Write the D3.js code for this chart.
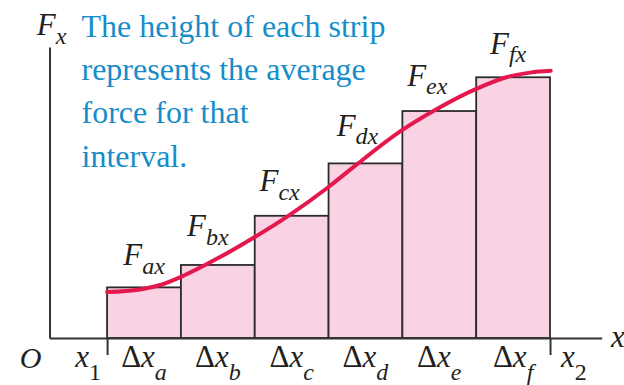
<!DOCTYPE html>
<html>
<head>
<meta charset="utf-8">
<script src="https://cdn.jsdelivr.net/npm/d3@7"></script>
</head>
<body style="margin:0">
<svg id="chart" width="624" height="385" style="font-family:'Liberation Serif'"></svg>
<script>
// Strip names and the average force over each strip
const intervals = ["a", "b", "c", "d", "e", "f"];
const avgForce = [1.74, 2.51, 4.20, 6.00, 7.80, 8.96];

// Start of the first strip and the width of every strip (same x units)
const xStart = 0.78;
const stripWidth = 1;

// The force curve F(x), sampled along the interval
const curveX = [0.78, 1.23, 1.50, 1.78, 2.31, 2.78, 3.23, 3.78, 4.18, 4.78, 5.20, 5.78, 6.20, 6.51, 6.79];
const curveF = [1.58, 1.67, 1.82, 2.10, 2.78, 3.47, 4.19, 5.19, 6.00, 7.15, 7.80, 8.56, 8.97, 9.12, 9.18];

// Caption lines
const caption = ["The height of each strip", "represents the average", "force for that", "interval."];

// Horizontal nudges for the F labels (layout only)
const labelShift = [0, -10, -12, -8, -12, -5];

const svg = d3.select("#chart");
const ink = "#231f20";

const x = d3.scaleLinear().domain([0, 7.48]).range([49.5, 601.7]);
const y = d3.scaleLinear().domain([0, 10]).range([338, 47]);

const bars = intervals.map((k, i) => ({
  key: k,
  x0: xStart + i * stripWidth,
  x1: xStart + (i + 1) * stripWidth,
  f: avgForce[i]
}));

// Strips
svg.append("g").selectAll("rect").data(bars).join("rect")
  .attr("x", d => x(d.x0))
  .attr("y", d => y(d.f))
  .attr("width", d => x(d.x1) - x(d.x0))
  .attr("height", d => y(0) - y(d.f))
  .attr("fill", "#f9d3e4")
  .attr("stroke", "#2b2b2b")
  .attr("stroke-width", 1.8);

// Axes
const xEnd = xStart + intervals.length * stripWidth;
const xAxis = d3.axisBottom(x)
  .tickValues([xStart, xEnd])
  .tickSizeInner(17).tickSizeOuter(0)
  .tickFormat("");
const gx = svg.append("g").attr("transform", `translate(0,${y(0)})`).call(xAxis);
gx.select(".domain").attr("stroke", "#333").attr("stroke-width", 2);
gx.selectAll(".tick line").attr("stroke", "#333").attr("stroke-width", 2);

const yAxis = d3.axisLeft(y).tickValues([]).tickSizeOuter(0);
const gy = svg.append("g").attr("transform", `translate(${x(0)},0)`).call(yAxis);
gy.select(".domain").attr("stroke", "#333").attr("stroke-width", 2);

// Force curve
const pts = curveX.map((v, i) => [v, curveF[i]]);
svg.append("path")
  .datum(pts)
  .attr("fill", "none")
  .attr("stroke", "#e5184e")
  .attr("stroke-width", 4)
  .attr("stroke-linecap", "round")
  .attr("d", d3.line().x(d => x(d[0])).y(d => y(d[1])).curve(d3.curveMonotoneX));

// Text with a subscript: parts = [{t, italic}], sub string
function subText(g, px, py, parts, sub, anchor, size, subSize, drop, subItalic = true) {
  const t = g.append("text")
    .attr("x", px).attr("y", py)
    .attr("text-anchor", anchor)
    .attr("fill", ink)
    .attr("font-size", size);
  parts.forEach(p => t.append("tspan").attr("font-style", p.italic ? "italic" : "normal").text(p.t));
  if (sub) {
    t.append("tspan").attr("font-style", subItalic ? "italic" : "normal")
      .attr("font-size", subSize)
      .attr("dy", drop).text(sub);
  }
  return t;
}

// Average-force labels above each strip
const curveAt = v => {
  const i = d3.bisector(d => d).left(curveX, v);
  if (i <= 0) return curveF[0];
  if (i >= curveX.length) return curveF[curveF.length - 1];
  const t = (v - curveX[i - 1]) / (curveX[i] - curveX[i - 1]);
  return curveF[i - 1] + t * (curveF[i] - curveF[i - 1]);
};
const gLab = svg.append("g");
bars.forEach((b, i) => {
  const cx = (b.x0 + b.x1) / 2;
  const top = Math.min(y(b.f), y(curveAt(cx)));
  subText(gLab, x(cx) + labelShift[i], top - 22, [{ t: "F", italic: true }], b.key + "x",
    "middle", 31, 24, 8.5);
});

// Interval labels under the axis
bars.forEach(b => {
  subText(gLab, x((b.x0 + b.x1) / 2), 367, [{ t: "Δ", italic: false }, { t: "x", italic: true }],
    b.key, "middle", 31, 24, 13);
});

// Origin and the ends of the interval
gLab.append("text").attr("x", 30.5).attr("y", 368).attr("text-anchor", "middle")
  .attr("fill", ink).attr("font-size", 30).attr("font-style", "italic").text("O");
subText(gLab, x(xStart) - 6, 367, [{ t: "x", italic: true }], "1", "end", 31, 24, 13, false);
subText(gLab, x(xEnd) + 11, 367, [{ t: "x", italic: true }], "2", "start", 31, 24, 13, false);

// Axis titles
subText(gLab, 36.7, 35, [{ t: "F", italic: true }], "x", "start", 31, 24, 8.5);
gLab.append("text").attr("x", 611).attr("y", 346.7)
  .attr("fill", ink).attr("font-size", 31).attr("font-style", "italic").text("x");

// Caption
svg.append("g").selectAll("text").data(caption).join("text")
  .attr("x", 81.5)
  .attr("y", (d, i) => 36.7 + i * 43.35)
  .attr("font-size", 32)
  .attr("fill", "#168dc9")
  .text(d => d);
</script>
</body>
</html>
